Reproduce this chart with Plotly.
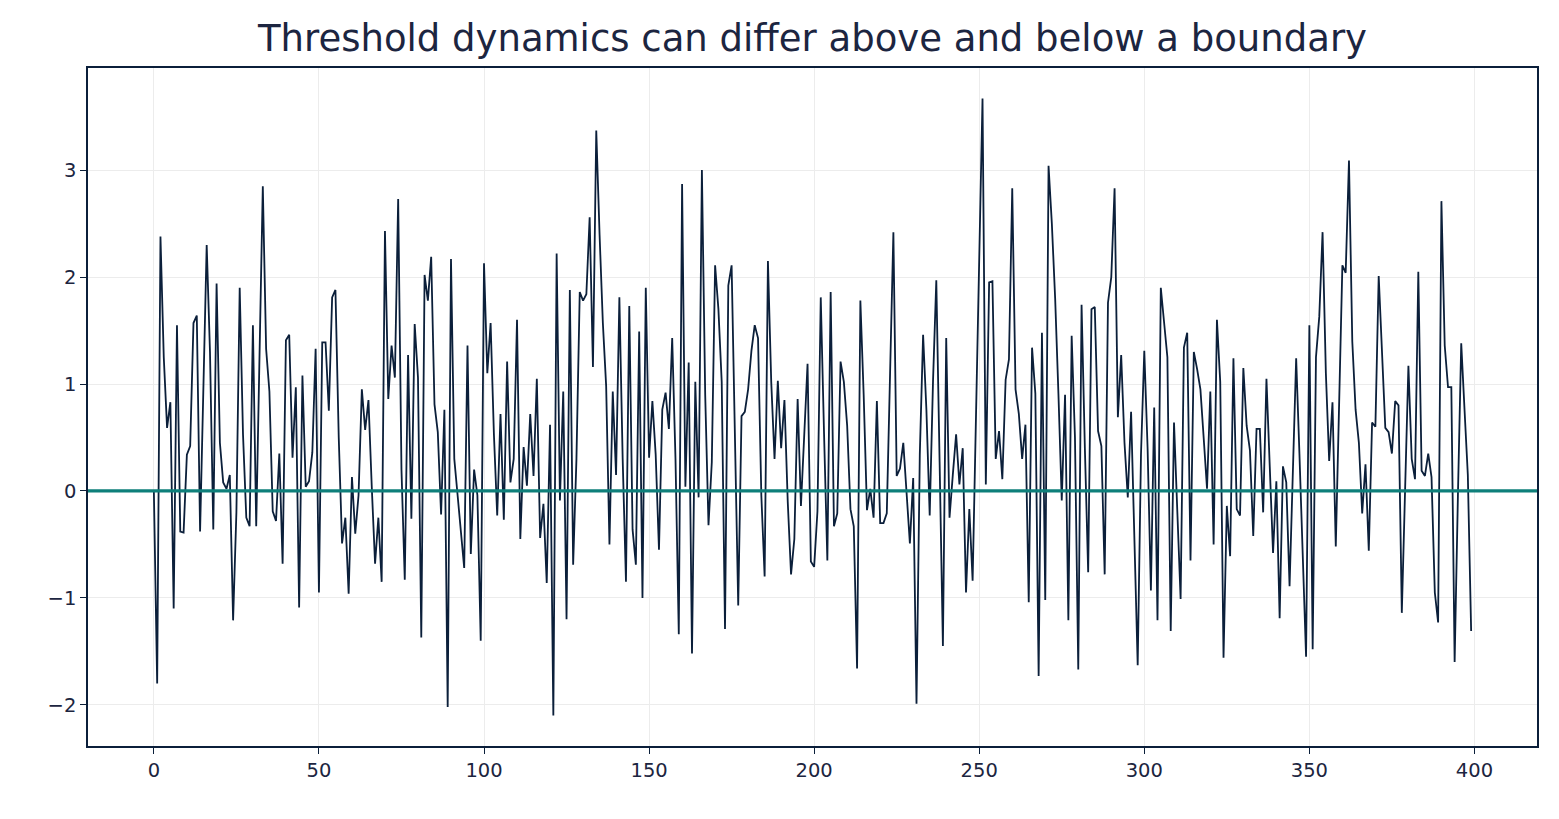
import plotly.graph_objects as go

# Time index and series values
t = list(range(400))
values = [
    0.00, -1.80, 2.38, 1.25, 0.59, 0.83, -1.10, 1.55, -0.38, -0.39,
    0.34, 0.42, 1.57, 1.64, -0.38, 0.90, 2.30, 1.30, -0.36, 1.94,
    0.45, 0.08, 0.02, 0.15, -1.21, -0.20, 1.90, 0.53, -0.25, -0.33,
    1.55, -0.33, 1.20, 2.85, 1.33, 0.93, -0.19, -0.28, 0.35, -0.68,
    1.41, 1.46, 0.31, 0.97, -1.09, 1.08, 0.04, 0.09, 0.36, 1.33,
    -0.95, 1.39, 1.39, 0.75, 1.81, 1.88, 0.50, -0.49, -0.25, -0.96,
    0.13, -0.40, -0.04, 0.95, 0.57, 0.85, 0.04, -0.68, -0.25, -0.85,
    2.43, 0.86, 1.36, 1.06, 2.73, 0.20, -0.83, 1.27, -0.26, 1.56,
    1.06, -1.37, 2.02, 1.78, 2.19, 0.81, 0.55, -0.22, 0.76, -2.02,
    2.17, 0.30, -0.04, -0.40, -0.72, 1.36, -0.59, 0.20, -0.04, -1.40,
    2.13, 1.10, 1.57, 0.53, -0.23, 0.72, -0.27, 1.21, 0.08, 0.30,
    1.60, -0.45, 0.41, 0.05, 0.72, 0.14, 1.05, -0.44, -0.12, -0.86,
    0.62, -2.10, 2.22, -0.09, 0.93, -1.20, 1.88, -0.69, 0.30, 1.86,
    1.78, 1.84, 2.56, 1.16, 3.37, 2.40, 1.57, 0.98, -0.50, 0.93,
    0.15, 1.81, 0.30, -0.85, 1.73, -0.36, -0.69, 1.49, -1.00, 1.90,
    0.31, 0.84, 0.34, -0.55, 0.76, 0.92, 0.58, 1.43, 0.30, -1.34,
    2.87, 0.04, 1.20, -1.52, 1.02, -0.06, 3.00, 0.90, -0.32, 0.27,
    2.11, 1.70, 1.02, -1.29, 1.92, 2.11, 0.50, -1.07, 0.70, 0.74,
    0.95, 1.31, 1.55, 1.43, -0.04, -0.80, 2.15, 1.02, 0.30, 1.03,
    0.40, 0.85, -0.10, -0.78, -0.45, 0.86, -0.14, 0.53, 1.19, -0.66,
    -0.71, -0.19, 1.81, 0.53, -0.65, 1.86, -0.33, -0.21, 1.21, 1.02,
    0.61, -0.17, -0.33, -1.66, 1.78, 0.90, -0.18, 0.02, -0.25, 0.84,
    -0.30, -0.30, -0.21, 1.10, 2.42, 0.14, 0.21, 0.45, 0.00, -0.49,
    0.12, -1.99, 0.34, 1.46, 0.76, -0.23, 1.02, 1.97, 0.27, -1.45,
    1.43, -0.25, 0.15, 0.53, 0.06, 0.40, -0.95, -0.17, -0.84, 0.60,
    2.10, 3.67, 0.06, 1.95, 1.96, 0.30, 0.56, 0.11, 1.04, 1.23,
    2.83, 0.95, 0.72, 0.30, 0.62, -1.04, 1.34, 0.91, -1.73, 1.48,
    -1.02, 3.04, 2.50, 1.80, 0.90, -0.09, 0.90, -1.21, 1.45, 0.50,
    -1.67, 1.74, 0.40, -0.76, 1.70, 1.72, 0.56, 0.42, -0.78, 1.76,
    2.00, 2.83, 0.69, 1.27, 0.45, -0.06, 0.74, -0.42, -1.63, 0.34,
    1.31, 0.40, -0.93, 0.78, -1.21, 1.90, 1.57, 1.25, -1.31, 0.64,
    -0.19, -1.01, 1.34, 1.48, -0.65, 1.30, 1.14, 0.95, 0.49, 0.02,
    0.93, -0.50, 1.60, 1.02, -1.56, -0.14, -0.61, 1.24, -0.17, -0.23,
    1.15, 0.61, 0.38, -0.42, 0.58, 0.58, -0.20, 1.05, 0.23, -0.58,
    0.09, -1.19, 0.23, 0.08, -0.89, 0.19, 1.24, 0.34, -0.60, -1.55,
    1.55, -1.48, 1.25, 1.63, 2.42, 1.10, 0.28, 0.83, -0.52, 0.72,
    2.11, 2.04, 3.09, 1.40, 0.76, 0.45, -0.21, 0.25, -0.56, 0.64,
    0.60, 2.01, 1.30, 0.59, 0.55, 0.35, 0.84, 0.80, -1.14, 0.04,
    1.17, 0.30, 0.11, 2.05, 0.19, 0.14, 0.35, 0.13, -0.95, -1.23,
    2.71, 1.36, 0.97, 0.97, -1.60, -0.04, 1.38, 0.76, 0.15, -1.31,
]
threshold = 0.0
title_text = "Threshold dynamics can differ above and below a boundary"
x_ticks = [0, 50, 100, 150, 200, 250, 300, 350, 400]
y_ticks = [-2, -1, 0, 1, 2, 3]

NAVY = "#0b1f3a"
TEAL = "#0e7f7a"
TEXT = "#1c2540"

fig = go.Figure()
fig.add_trace(go.Scatter(
    x=t, y=values, mode="lines",
    line=dict(color=NAVY, width=1.8),
    showlegend=False, hoverinfo="x+y",
))
fig.add_shape(
    type="line", xref="paper", x0=0, x1=1, yref="y", y0=threshold, y1=threshold,
    line=dict(color=TEAL, width=3.2), layer="above",
)

fig.update_layout(
    width=1559, height=819,
    paper_bgcolor="white", plot_bgcolor="white",
    margin=dict(l=80, r=30, t=60, b=81),
    font=dict(family="DejaVu Sans", color=TEXT, size=19.5),
    title=dict(text=title_text, xref="paper", x=0.5, xanchor="center",
               y=0.963, yanchor="middle",
               font=dict(size=37, color=TEXT, family="DejaVu Sans")),
    xaxis=dict(
        range=[-19.95, 418.95], tickvals=x_ticks, ticks="outside", ticklen=6,
        tickwidth=1.3, tickcolor=NAVY, showline=True, linecolor=NAVY, linewidth=1.5,
        mirror=True, showgrid=True, gridcolor="#ececec", gridwidth=1, zeroline=False,
        tickfont=dict(size=19.5, color=TEXT),
    ),
    yaxis=dict(
        range=[-2.385, 3.955], tickvals=y_ticks, ticks="outside", ticklen=6,
        tickwidth=1.3, tickcolor=NAVY, showline=True, linecolor=NAVY, linewidth=1.5,
        mirror=True, showgrid=True, gridcolor="#ececec", gridwidth=1, zeroline=False,
        tickfont=dict(size=19.5, color=TEXT),
    ),
)

fig.write_html("out.html")
